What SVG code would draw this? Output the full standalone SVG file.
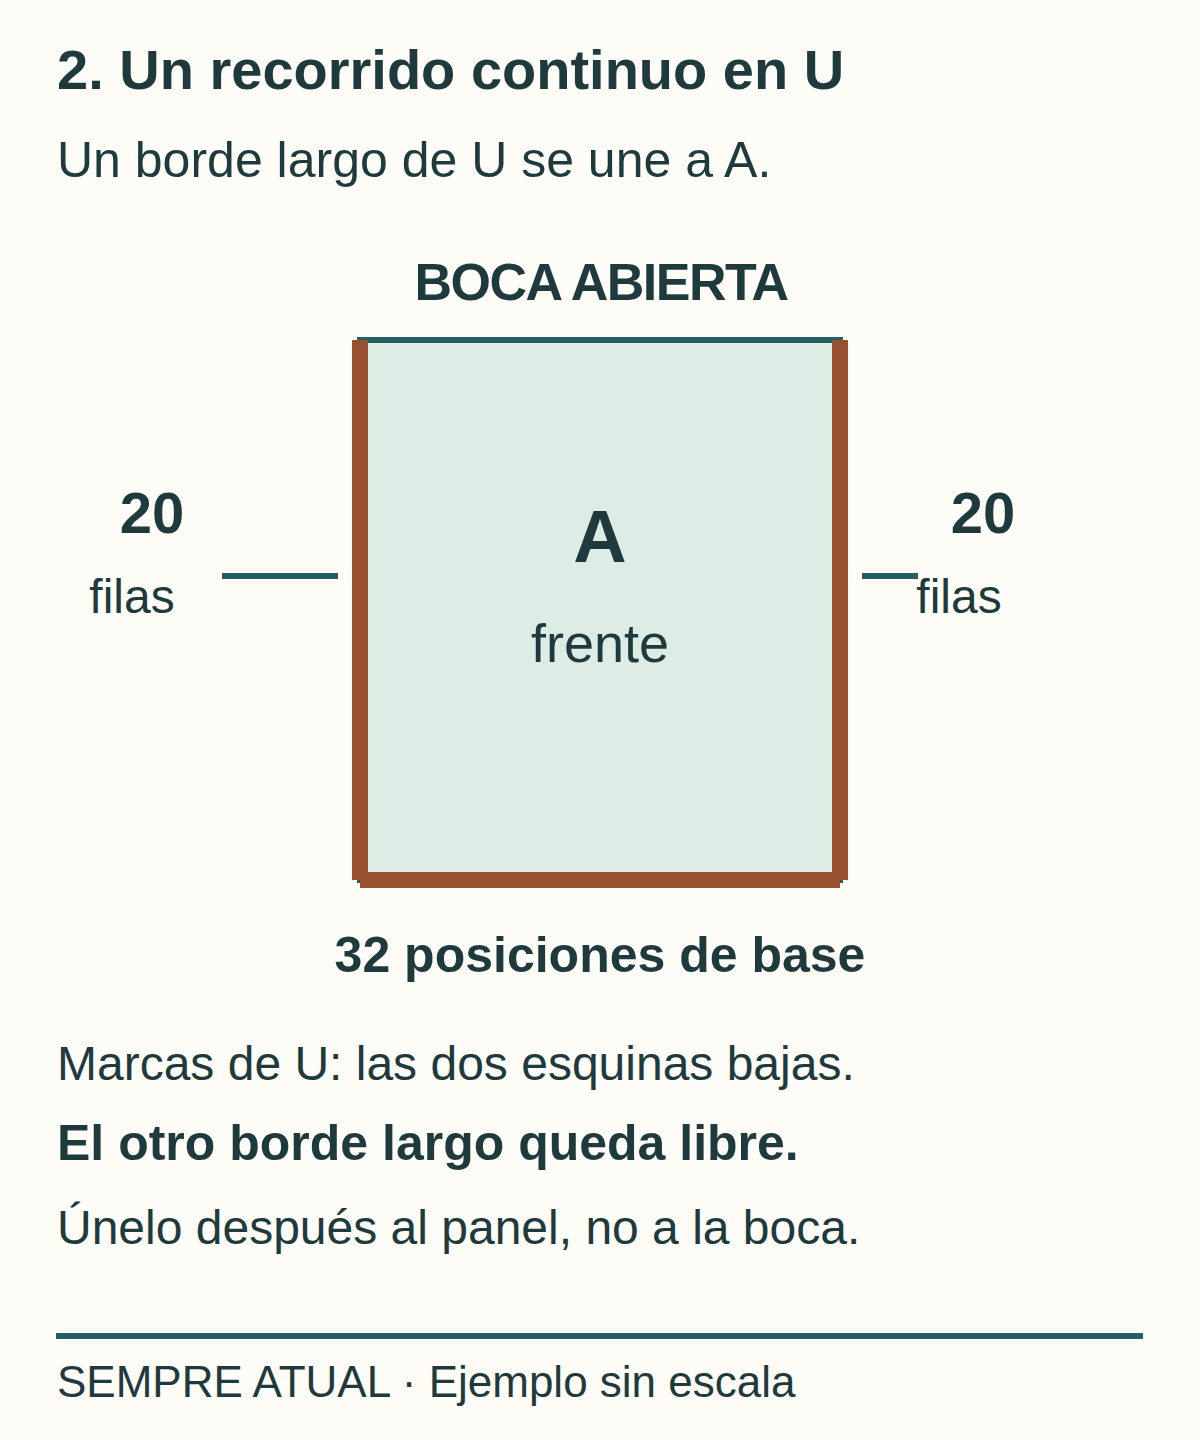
<svg xmlns="http://www.w3.org/2000/svg" width="1200" height="1440" viewBox="0 0 1200 1440">
<style>
text{font-family:"Liberation Sans",Arial,sans-serif;fill:#1f3a3d}
.b{font-weight:bold}
.m{text-anchor:middle}
.teal{stroke:#255e63;stroke-width:6;fill:none}
.brown{stroke:#97512e;stroke-width:16;fill:none}
</style>
<rect x="0" y="0" width="1200" height="1440" fill="#fdfcf7"/>
<g id="header">
<text class="b" x="57" y="89" font-size="56">2. Un recorrido continuo en U</text>
<text x="57" y="177" font-size="50">Un borde largo de U se une a A.</text>
</g>
<g id="mouth-label">
<text class="b m" x="601" y="300" font-size="52" letter-spacing="-1.5">BOCA ABIERTA</text>
</g>
<g id="panel-A">
<rect x="360" y="340" width="480" height="540" fill="#deece6" stroke="#255e63" stroke-width="6"/>
<text class="b m" x="600" y="562" font-size="74">A</text>
<text class="m" x="600" y="662" font-size="54">frente</text>
</g>
<g id="connectors">
<line class="brown" x1="360" y1="340" x2="360" y2="880"/>
<line class="brown" x1="840" y1="340" x2="840" y2="880"/>
<line class="brown" x1="360" y1="880" x2="840" y2="880"/>
<line class="teal" x1="222" y1="576" x2="338" y2="576"/>
<line class="teal" x1="862" y1="576" x2="918" y2="576"/>
</g>
<g id="left-label">
<text class="b m" x="152" y="533" font-size="58">20</text>
<text class="m" x="132" y="613" font-size="48">filas</text>
</g>
<g id="right-label">
<text class="b m" x="983" y="533" font-size="58">20</text>
<text class="m" x="959" y="613" font-size="48">filas</text>
</g>
<g id="base-label">
<text class="b m" x="600" y="972" font-size="50">32 posiciones de base</text>
</g>
<g id="notes">
<text x="57" y="1080" font-size="48">Marcas de U: las dos esquinas bajas.</text>
<text class="b" x="57" y="1160" font-size="50">El otro borde largo queda libre.</text>
<text x="57" y="1244" font-size="48">Únelo después al panel, no a la boca.</text>
</g>
<g id="footer">
<line x1="56" y1="1336" x2="1143" y2="1336" stroke="#255e63" stroke-width="6"/>
<text x="57" y="1397" font-size="44">SEMPRE ATUAL · Ejemplo sin escala</text>
</g>
</svg>
